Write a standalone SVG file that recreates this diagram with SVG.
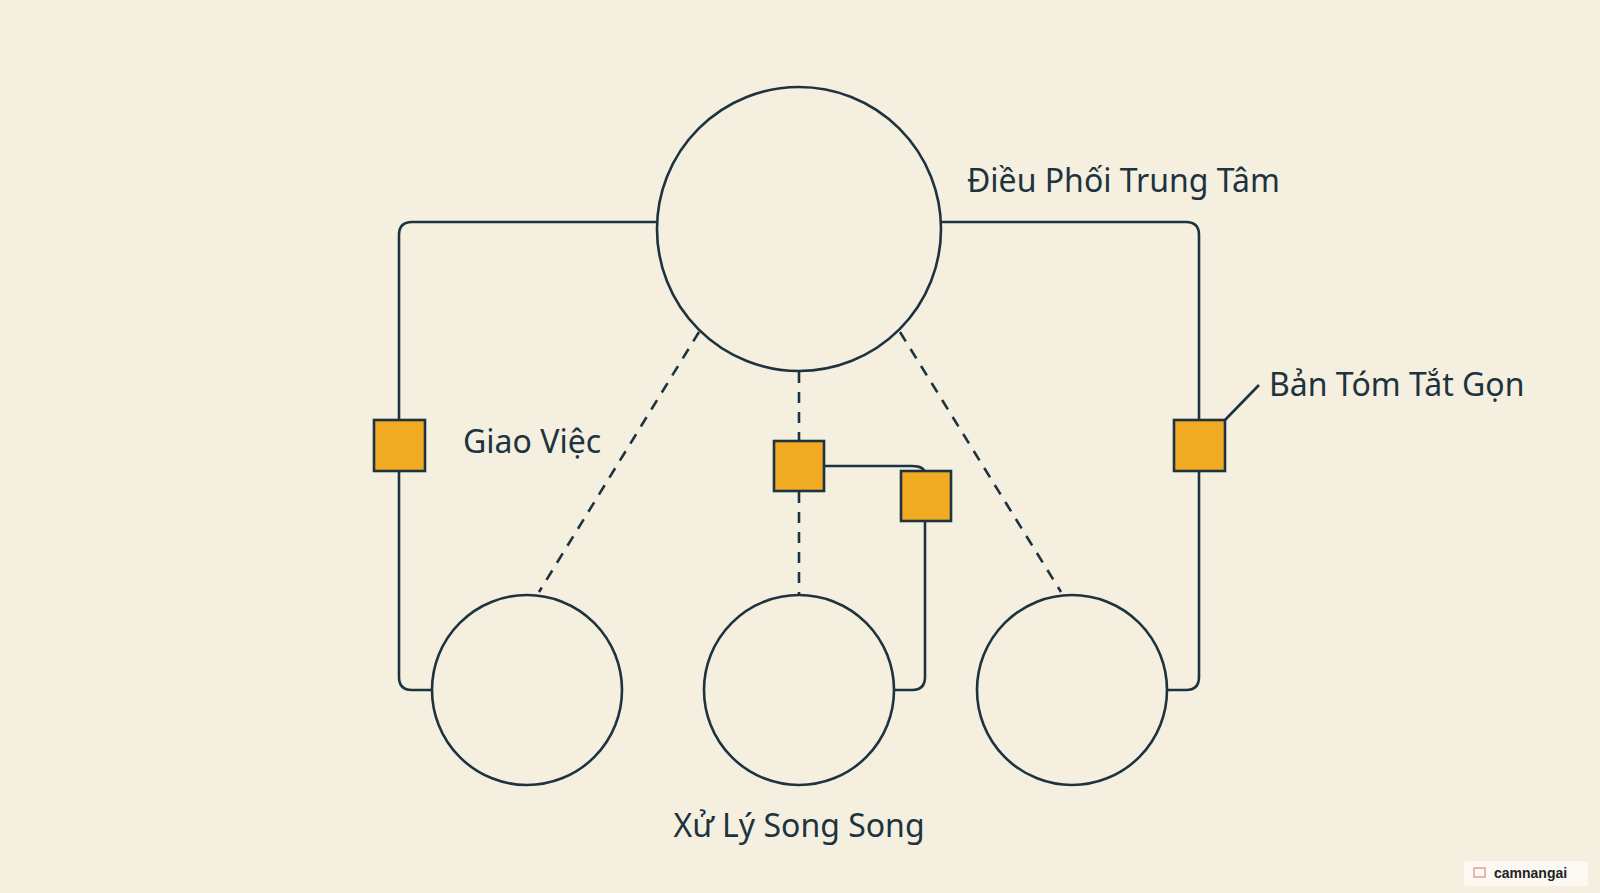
<svg xmlns="http://www.w3.org/2000/svg" width="1600" height="893" viewBox="0 0 1600 893">
<style>
.c{fill:none;stroke:#1e3340;stroke-width:2.6}
.d{fill:none;stroke:#1e3340;stroke-width:2.6;stroke-dasharray:11 9}
.s{fill:#f0ab22;stroke:#1e3340;stroke-width:2.6}
.n{fill:none;stroke:#1e3340;stroke-width:2.6}
.t{font-family:"Noto Sans","Open Sans",sans-serif;font-size:32px;fill:#1e3340}
</style>
<rect width="1600" height="893" fill="#f4efdf"/>
<g id="connectors">
<path class="c" d="M658 222 H412 Q399 222 399 235 V677 Q399 690 412 690 H432"/>
<path class="c" d="M941 222 H1186 Q1199 222 1199 235 V677 Q1199 690 1186 690 H1168"/>
<path class="c" d="M825 466 H912 Q925 466 925 474"/>
<path class="c" d="M925 521 V677 Q925 690 912 690 H894"/>
<path class="c" d="M1225 420 L1259 385"/>
<path class="d" d="M699 332 L539 592"/>
<path class="d" d="M799 372 V595"/>
<path class="d" d="M900 332 L1061 592"/>
</g>
<g id="hub"><circle class="n" cx="799" cy="229" r="142"/><text class="t" x="967" y="192">Điều Phối Trung Tâm</text></g>
<g id="worker1"><circle class="n" cx="527" cy="690" r="95"/></g>
<g id="worker2"><circle class="n" cx="799" cy="690" r="95"/></g>
<g id="worker3"><circle class="n" cx="1072" cy="690" r="95"/></g>
<g id="sq-left"><rect class="s" x="374" y="420" width="51" height="51"/></g>
<g id="sq-right"><rect class="s" x="1174" y="420" width="51" height="51"/></g>
<g id="sq-center"><rect class="s" x="774" y="441" width="50" height="50"/></g>
<g id="sq-center2"><rect class="s" x="901" y="471" width="50" height="50"/></g>
<g id="labels">
<text class="t" x="463" y="453">Giao Việc</text>
<text class="t" x="1269" y="396">Bản Tóm Tắt Gọn</text>
<text class="t" x="799" y="837" text-anchor="middle">Xử Lý Song Song</text>
</g>
<g id="watermark">
<rect x="1464" y="861" width="124" height="25" rx="3" fill="#fbf9f2"/>
<text x="1494" y="878" font-family="Liberation Sans,sans-serif" font-size="14" font-weight="bold" fill="#222">camnangai</text>
<rect x="1474" y="868" width="11" height="9" fill="none" stroke="#d88" stroke-width="1.2"/>
</g>
</svg>
